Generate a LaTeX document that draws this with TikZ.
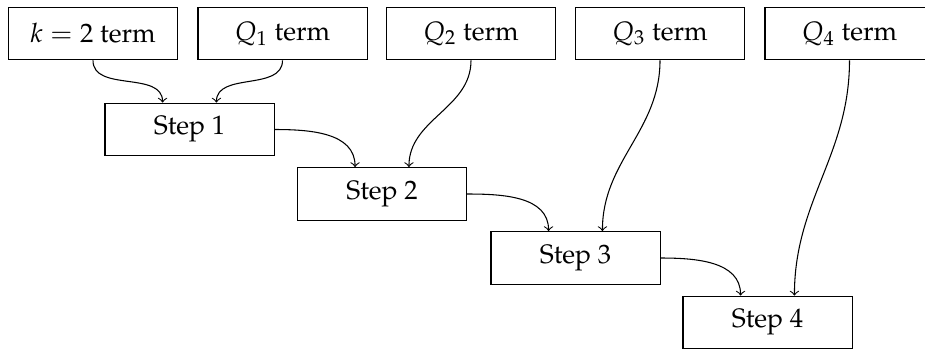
\documentclass[tikz,border=0pt]{standalone}
\usepackage[T1]{fontenc}
\usepackage{mathpazo}
\begin{document}
\begin{tikzpicture}[x=0.375pt,y=-0.375pt,
  box/.style={draw, minimum width=63.4pt, minimum height=19.8pt, inner sep=2pt, font=\normalsize},
  link/.style={->, line width=0.4pt}]
\useasboundingbox (0,0) rectangle (925,349);
\node[box] (k)  at (93,33.5)   {$k=2$ term};
\node[box] (q1) at (282.5,33.5) {$Q_1$ term};
\node[box] (q2) at (471,33.5)  {$Q_2$ term};
\node[box] (q3) at (660,33.5)  {$Q_3$ term};
\node[box] (q4) at (849.5,33.5) {$Q_4$ term};
\node[box] (s1) at (189.5,129.5) {Step 1};
\node[box] (s2) at (382,194)   {Step 2};
\node[box] (s3) at (575.5,258) {Step 3};
\node[box] (s4) at (767.5,322.5) {Step 4};
\draw[link] (k.south)  to[out=-90,in=90] ([xshift=-10.1pt]s1.north);
\draw[link] (q1.south) to[out=-90,in=90] ([xshift=10.1pt]s1.north);
\draw[link] (q2.south) to[out=-90,in=90] ([xshift=10.1pt]s2.north);
\draw[link] (q3.south) to[out=-90,in=90] ([xshift=10.1pt]s3.north);
\draw[link] (q4.south) to[out=-90,in=90] ([xshift=10.1pt]s4.north);
\draw[link] (s1.east) to[out=0,in=90] ([xshift=-10.1pt]s2.north);
\draw[link] (s2.east) to[out=0,in=90] ([xshift=-10.1pt]s3.north);
\draw[link] (s3.east) to[out=0,in=90] ([xshift=-10.1pt]s4.north);
\end{tikzpicture}
\end{document}
